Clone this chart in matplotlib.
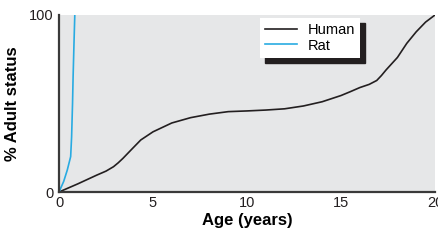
import matplotlib
matplotlib.use('Agg')
import matplotlib.pyplot as plt
from matplotlib.patches import Rectangle

plt.rcParams['font.family'] = ['Liberation Sans Narrow', 'Liberation Sans', 'DejaVu Sans']

# human growth curve
human_age = [0, 1, 2, 2.5, 2.9, 3.15, 3.4, 3.9, 4.35, 5, 6, 7, 8, 9, 10, 11, 12, 13, 14,
             15, 15.5, 16, 16.5, 16.9, 17.15, 17.4, 18, 18.5, 19, 19.5, 20]
human_pct = [0, 4.6, 9.5, 11.8, 14.3, 16.5, 19, 24.5, 29.4, 34, 39, 42, 44, 45.4, 45.8, 46.3,
             47, 48.6, 51, 54.5, 56.7, 59, 60.8, 63, 65.8, 69, 76, 84, 90.5, 96, 100]
# rat curve
rat_age = [0, 0.25, 0.44, 0.62, 0.67, 0.72, 0.75, 0.8, 0.84]
rat_pct = [0, 6, 12.4, 20, 31, 50, 65, 85, 100]

xticks = [0, 5, 10, 15, 20]
yticks = [0, 100]

fig = plt.figure(figsize=(4.39, 2.41), dpi=100)
ax = fig.add_axes([0.1344, 0.2033, 0.8565, 0.7345])
ax.set_facecolor('#e6e7e8')

ax.plot(human_age, human_pct, color='#231f20', lw=1.2, label='Human')
ax.plot(rat_age, rat_pct, color='#29abe2', lw=1.2, label='Rat')

ax.set_xlim(0, 20)
ax.set_ylim(0, 100)
ax.set_xticks(xticks)
ax.set_yticks(yticks)
ax.tick_params(length=0, labelsize=10.5, colors='#231f20', pad=3)
ax.tick_params(axis='y', pad=4)
for s in ['top', 'right']:
    ax.spines[s].set_visible(False)
for s in ['left', 'bottom']:
    ax.spines[s].set_color('#3a3a3a')
    ax.spines[s].set_linewidth(1.6)

ax.set_xlabel('Age (years)', fontsize=12, fontweight='bold', labelpad=2)
ax.set_ylabel('% Adult status', fontsize=12, fontweight='bold', labelpad=6)

leg = ax.legend(loc='upper left', bbox_to_anchor=(0.535, 0.983), frameon=True,
                fancybox=False, edgecolor='white', facecolor='white', framealpha=1,
                fontsize=10.5, handlelength=2.2, handletextpad=0.7,
                labelspacing=0.1, borderpad=0.35, borderaxespad=0)
leg.get_frame().set_linewidth(0)
leg.set_zorder(5)

# black drop shadow behind the legend box
fig.canvas.draw()
bb = leg.get_window_extent().transformed(fig.transFigure.inverted())
dx, dy = 5 / 439, 5 / 241
shadow = Rectangle((bb.x0 + dx, bb.y0 - dy), bb.width, bb.height,
                   transform=fig.transFigure, color='#231f20', zorder=4.5,
                   clip_on=False)
ax.add_patch(shadow)

plt.savefig('out.png', dpi=100)
